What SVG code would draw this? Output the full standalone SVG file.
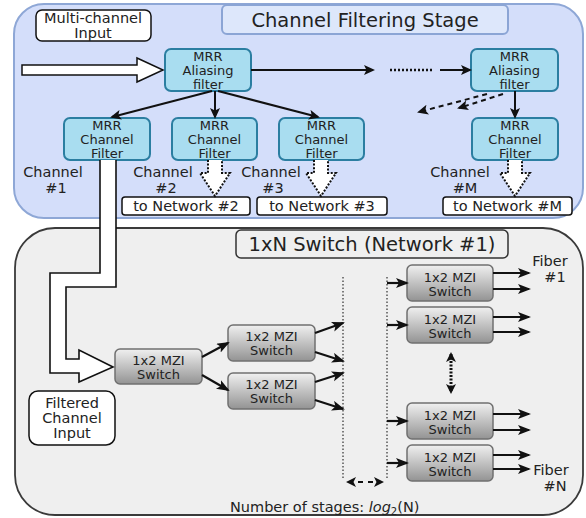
<svg xmlns="http://www.w3.org/2000/svg" width="586" height="518" viewBox="0 0 586 518">
<style>
text{font-family:"DejaVu Sans","Liberation Sans",sans-serif;fill:#222;text-anchor:middle}
.mrr{fill:#a9ddf0;stroke:#2b7ea1;stroke-width:2}
.mrrt{font-size:13px}
.lbl{font-size:14.5px}
.wbox{fill:#fff;stroke:#111;stroke-width:1.5}
.sw{fill:url(#gsw);stroke:#707070;stroke-width:1.5}
.swt{font-size:13px}
.ttl{font-size:19.5px}
.ar{stroke:#111;stroke-width:2;fill:none;marker-end:url(#ah)}
.ar2{stroke:#111;stroke-width:2.2;fill:none;marker-end:url(#ah2)}
.dotv{stroke:#555;stroke-width:1.5;stroke-dasharray:1.5 2;fill:none}
.darr{fill:#fff;stroke:#111;stroke-width:2;stroke-dasharray:2 1.6}
</style>
<defs>
<linearGradient id="gsw" x1="0" y1="0" x2="0" y2="1">
<stop offset="0" stop-color="#f0f0f0"/>
<stop offset="1" stop-color="#939393"/>
</linearGradient>
<marker id="ah" markerUnits="userSpaceOnUse" markerWidth="14" markerHeight="12" refX="9" refY="5" orient="auto">
<path d="M0,0 L11,5 L0,10 L2.5,5 z" fill="#111"/>
</marker>
<marker id="ah2" markerUnits="userSpaceOnUse" markerWidth="16" markerHeight="12" refX="11" refY="5" orient="auto">
<path d="M0,0 L13,5 L0,10 L3,5 z" fill="#111"/>
</marker>
<marker id="ahs" markerUnits="userSpaceOnUse" markerWidth="14" markerHeight="12" refX="8" refY="5" orient="auto-start-reverse">
<path d="M0,0 L10,5 L0,10 L2.5,5 z" fill="#111"/>
</marker>
</defs>

<g id="panel-filtering">
<rect x="14" y="4" width="569" height="214" rx="30" fill="#d4defa" stroke="#8ea7d6" stroke-width="2"/>
<rect x="222" y="5" width="286" height="29" rx="5" fill="#dde7fb" stroke="#8ba5d5" stroke-width="2"/>
<text class="ttl" x="365" y="27">Channel Filtering Stage</text>
</g>

<g id="panel-switch">
<rect x="15" y="228" width="568" height="287" rx="40" fill="#efefef" stroke="#3a3a3a" stroke-width="1.8"/>
<rect x="236" y="230" width="272" height="28" rx="5" fill="#efefef" stroke="#333" stroke-width="1.5"/>
<text class="ttl" x="372" y="251">1xN Switch (Network #1)</text>
</g>

<g id="multi-channel-input">
<rect class="wbox" x="36" y="10" width="115" height="31" rx="6"/>
<text class="lbl" x="93" y="23">Multi-channel</text>
<text class="lbl" x="93" y="38">Input</text>
</g>

<g id="aliasing-1">
<rect class="mrr" x="165" y="49" width="86" height="42" rx="6"/>
<text class="mrrt" x="208" y="60.5">MRR</text>
<text class="mrrt" x="208" y="74.5">Aliasing</text>
<text class="mrrt" x="208" y="88.5">filter</text>
</g>

<g id="aliasing-m">
<rect class="mrr" x="471" y="49" width="87" height="42" rx="6"/>
<text class="mrrt" x="514.5" y="60.5">MRR</text>
<text class="mrrt" x="514.5" y="74.5">Aliasing</text>
<text class="mrrt" x="514.5" y="88.5">filter</text>
</g>

<g id="channel-filter-1">
<rect class="mrr" x="64" y="118" width="86" height="42" rx="6"/>
<text class="mrrt" x="107" y="129.5">MRR</text>
<text class="mrrt" x="107" y="143.5">Channel</text>
<text class="mrrt" x="107" y="157.5">Filter</text>
</g>
<g id="channel-filter-2">
<rect class="mrr" x="172" y="118" width="85" height="42" rx="6"/>
<text class="mrrt" x="214.5" y="129.5">MRR</text>
<text class="mrrt" x="214.5" y="143.5">Channel</text>
<text class="mrrt" x="214.5" y="157.5">Filter</text>
</g>
<g id="channel-filter-3">
<rect class="mrr" x="279" y="118" width="85" height="42" rx="6"/>
<text class="mrrt" x="321.5" y="129.5">MRR</text>
<text class="mrrt" x="321.5" y="143.5">Channel</text>
<text class="mrrt" x="321.5" y="157.5">Filter</text>
</g>
<g id="channel-filter-m">
<rect class="mrr" x="472" y="118" width="86" height="42" rx="6"/>
<text class="mrrt" x="515" y="129.5">MRR</text>
<text class="mrrt" x="515" y="143.5">Channel</text>
<text class="mrrt" x="515" y="157.5">Filter</text>
</g>

<g id="channel-labels">
<text class="lbl" x="53" y="177">Channel</text>
<text class="lbl" x="56" y="193">#1</text>
<text class="lbl" x="163" y="177">Channel</text>
<text class="lbl" x="166" y="193">#2</text>
<text class="lbl" x="271" y="177">Channel</text>
<text class="lbl" x="273" y="193">#3</text>
<text class="lbl" x="460" y="177">Channel</text>
<text class="lbl" x="465" y="193">#M</text>
</g>

<g id="to-network-2">
<rect class="wbox" x="122" y="197" width="128" height="18" rx="3" stroke-width="1.3"/>
<text class="lbl" x="186" y="211">to Network #2</text>
</g>
<g id="to-network-3">
<rect class="wbox" x="257" y="197" width="130" height="18" rx="3" stroke-width="1.3"/>
<text class="lbl" x="322" y="211">to Network #3</text>
</g>
<g id="to-network-m">
<rect class="wbox" x="443" y="197" width="129" height="18" rx="3" stroke-width="1.3"/>
<text class="lbl" x="507.5" y="211">to Network #M</text>
</g>

<g id="filtered-channel-input">
<rect class="wbox" x="29" y="391" width="86" height="54" rx="9" stroke-width="1.8"/>
<text class="lbl" x="72" y="408">Filtered</text>
<text class="lbl" x="72" y="423">Channel</text>
<text class="lbl" x="72" y="438">Input</text>
</g>

<g id="switch-a">
<rect class="sw" x="115" y="349" width="87" height="35" rx="5"/>
<text class="swt" x="158.5" y="364.5">1x2 MZI</text>
<text class="swt" x="158.5" y="378.5">Switch</text>
</g>
<g id="switch-b">
<rect class="sw" x="228" y="325" width="87" height="36" rx="5"/>
<text class="swt" x="271.5" y="341">1x2 MZI</text>
<text class="swt" x="271.5" y="355">Switch</text>
</g>
<g id="switch-c">
<rect class="sw" x="228" y="373" width="87" height="36" rx="5"/>
<text class="swt" x="271.5" y="389">1x2 MZI</text>
<text class="swt" x="271.5" y="403">Switch</text>
</g>
<g id="switch-d">
<rect class="sw" x="407" y="265" width="86" height="36" rx="5"/>
<text class="swt" x="450" y="281.5">1x2 MZI</text>
<text class="swt" x="450" y="295.5">Switch</text>
</g>
<g id="switch-e">
<rect class="sw" x="407" y="307" width="86" height="36" rx="5"/>
<text class="swt" x="450" y="323.5">1x2 MZI</text>
<text class="swt" x="450" y="337.5">Switch</text>
</g>
<g id="switch-f">
<rect class="sw" x="407" y="403" width="86" height="36" rx="5"/>
<text class="swt" x="450" y="419.5">1x2 MZI</text>
<text class="swt" x="450" y="433.5">Switch</text>
</g>
<g id="switch-g">
<rect class="sw" x="407" y="445" width="86" height="36" rx="5"/>
<text class="swt" x="450" y="461.5">1x2 MZI</text>
<text class="swt" x="450" y="475.5">Switch</text>
</g>

<g id="fiber-labels">
<text class="lbl" x="550" y="266">Fiber</text>
<text class="lbl" x="555" y="282">#1</text>
<text class="lbl" x="551" y="475">Fiber</text>
<text class="lbl" x="555" y="491">#N</text>
</g>

<g id="stages-label">
<text class="lbl" x="230" y="512" style="text-anchor:start">Number of stages: <tspan font-style="italic">log</tspan><tspan font-size="10" dy="3">2</tspan><tspan dy="-3">(N)</tspan></text>
</g>

<g id="connectors">
<path d="M22,65 H137 V58 L163,70 L137,82 V75 H22 Z" fill="#fff" stroke="#111" stroke-width="1.5"/>
<path d="M100,160 V273 H50 V373 H79 V382 L113,367 L79,350 V359 H66 V287 H116 V160" fill="#fff" stroke="#111" stroke-width="1.6"/>
<line class="ar" x1="251" y1="70" x2="373" y2="70"/>
<line x1="390" y1="70" x2="433" y2="70" stroke="#111" stroke-width="2.5" stroke-dasharray="2 2"/>
<line class="ar" x1="440" y1="70" x2="470" y2="70"/>
<line class="ar" x1="212" y1="91" x2="112" y2="117"/>
<line class="ar" x1="215" y1="91" x2="215" y2="117"/>
<line class="ar" x1="218" y1="91" x2="318" y2="117"/>
<line class="ar" x1="515" y1="91" x2="515" y2="117"/>
<line class="ar" x1="487" y1="94" x2="419" y2="112" stroke-dasharray="5 4"/>
<line class="ar" x1="503" y1="94" x2="459" y2="108" stroke-dasharray="5 4"/>
<path class="darr" d="M208,160 V173 H200 L215,196 L230,173 H222 V160"/>
<path class="darr" d="M314,160 V173 H306 L321,196 L336,173 H328 V160"/>
<path class="darr" d="M508,160 V173 H500 L515,196 L530,173 H522 V160"/>

<line class="dotv" x1="343" y1="277" x2="343" y2="478"/>
<line class="dotv" x1="387" y1="277" x2="387" y2="478"/>
<line x1="348" y1="482" x2="382" y2="482" stroke="#111" stroke-width="2" stroke-dasharray="5 5" marker-start="url(#ahs)" marker-end="url(#ahs)"/>
<line x1="451" y1="354" x2="451" y2="392" stroke="#111" stroke-width="3" stroke-dasharray="2 1.5" marker-start="url(#ahs)" marker-end="url(#ahs)"/>

<line class="ar2" x1="202" y1="357" x2="228" y2="343"/>
<line class="ar2" x1="202" y1="375" x2="228" y2="390"/>
<line class="ar2" x1="315" y1="333" x2="343" y2="323"/>
<line class="ar2" x1="315" y1="352" x2="343" y2="361"/>
<line class="ar2" x1="315" y1="382" x2="343" y2="373"/>
<line class="ar2" x1="315" y1="400" x2="343" y2="409"/>

<line class="ar2" x1="387" y1="283" x2="407" y2="283"/>
<line class="ar2" x1="387" y1="325" x2="407" y2="325"/>
<line class="ar2" x1="387" y1="421" x2="407" y2="421"/>
<line class="ar2" x1="387" y1="463" x2="407" y2="463"/>

<line class="ar2" x1="493" y1="273" x2="529" y2="273"/>
<line class="ar2" x1="493" y1="289" x2="529" y2="289"/>
<line class="ar2" x1="493" y1="317" x2="529" y2="317"/>
<line class="ar2" x1="493" y1="332" x2="529" y2="332"/>
<line class="ar2" x1="493" y1="414" x2="529" y2="414"/>
<line class="ar2" x1="493" y1="430" x2="529" y2="430"/>
<line class="ar2" x1="493" y1="455" x2="529" y2="455"/>
<line class="ar2" x1="493" y1="469" x2="529" y2="469"/>
</g>
</svg>
